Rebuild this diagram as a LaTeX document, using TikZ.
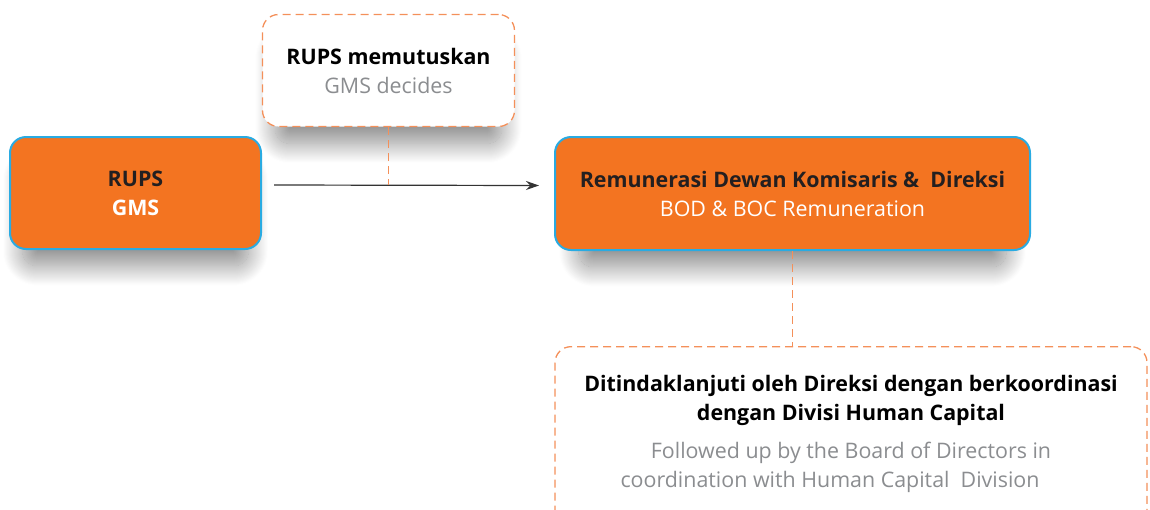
\documentclass[tikz,border=0pt]{standalone}
\usepackage{fontspec}
\setmainfont{Open Sans}
\usepackage{xcolor}
\usepackage{tikz}
\usetikzlibrary{calc, arrows.meta, shadows.blur}
\definecolor{oranye}{HTML}{F37421}
\definecolor{biru}{HTML}{29ABE2}
\definecolor{oranyegaris}{HTML}{F4905A}
\definecolor{abu}{HTML}{8B8D90}
\definecolor{hitam}{HTML}{231F20}
\definecolor{gelap}{HTML}{333333}
\tikzset{every node/.append style={font=\fontsize{21.4}{29}\selectfont}}

\begin{document}
\begin{tikzpicture}[x=1pt, y=-1pt, >={Stealth[length=13pt, width=9pt]},
    bayang/.style={blur shadow={shadow xshift=0pt, shadow yshift=-25pt, shadow blur radius=22pt, shadow blur steps=40, shadow opacity=45, shadow scale=0.9}},
    kotak/.style={draw=biru, line width=2pt, fill=oranye, rounded corners=16pt, align=center, text=hitam, bayang},
    putus/.style={draw=oranyegaris, line width=1.3pt, dash pattern=on 8pt off 5pt, fill=white, rounded corners=16pt, align=center, bayang},
    garis/.style={draw=oranyegaris, line width=1.3pt, dash pattern=on 8pt off 5pt}]
    \useasboundingbox (0,0) rectangle (1150,509);
    \clip (0,0) rectangle (1150,509);
    \node[putus, minimum width=252pt, minimum height=112pt] (keputusan) at (388.5,70.5) {\textbf{RUPS memutuskan}\\\textcolor{abu}{GMS decides}};
    \node[kotak, minimum width=251pt, minimum height=112pt] (rups) at (135.5,193) {\textbf{RUPS}\\\textbf{\textcolor{white}{GMS}}};
    \node[kotak, minimum width=475pt, minimum height=113pt] (remun) at (792.5,193.5) {\textbf{Remunerasi Dewan Komisaris \&\ \ Direksi}\\\textcolor{white}{BOD \& BOC Remuneration}};
    \node[putus, minimum width=592pt, minimum height=220pt, anchor=north] (tindaklanjut) at (851,346) {};
    \node[align=center] (teks) at (tindaklanjut.north |- 0,434) {\textbf{Ditindaklanjuti oleh Direksi dengan berkoordinasi}\\\textbf{dengan Divisi Human Capital}\\[9pt]\textcolor{abu}{Followed up by the Board of Directors in}\\\textcolor{abu}{coordination with Human Capital\ \ Division}\hspace*{42pt}};
    \coordinate (pangkal) at ([shift={(12,-8)}]rups.east);
    \coordinate (ujung) at ([shift={(-15,-8)}]remun.west);
    \draw[->, line width=1.2pt, draw=gelap] (pangkal) -- (ujung);
    \draw[garis] (keputusan.south) -- (keputusan.south |- pangkal);
    \draw[garis] (remun.south) -- (remun.south |- tindaklanjut.north);
\end{tikzpicture}
\end{document}
